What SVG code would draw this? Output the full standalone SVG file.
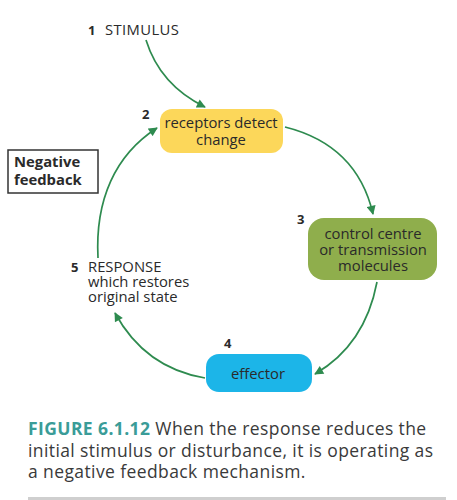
<svg xmlns="http://www.w3.org/2000/svg" width="457" height="500" viewBox="0 0 457 500">
<defs>
<marker id="ah" viewBox="0 0 10 10" refX="9" refY="5" markerWidth="10" markerHeight="9" orient="auto" markerUnits="userSpaceOnUse">
<path d="M0,0 L10,5 L0,10 z" fill="#2e8b4f"/>
</marker>
<style>
.t{font-family:"Open Sans","DejaVu Sans",sans-serif;font-size:14.8px;font-weight:500;fill:#2a2a2a}
.c{text-anchor:middle}
.b{font-weight:bold}
.n{font-family:"Open Sans","DejaVu Sans",sans-serif;font-size:13px;font-weight:bold;fill:#2a2a2a}
.cap{font-family:"Open Sans","Liberation Sans",sans-serif;font-size:17.5px;letter-spacing:0.4px;fill:#3a3a3a}
.ln{fill:none;stroke:#2e8b4f;stroke-width:1.7;marker-end:url(#ah)}
</style>
</defs>
<rect width="457" height="500" fill="#fff"/>
<g id="stimulus">
<text class="n" x="88" y="35">1</text>
<text class="t" x="105" y="35" letter-spacing="0.4">STIMULUS</text>
</g>
<g id="receptors">
<rect x="160" y="109" width="123" height="44" rx="12" fill="#fcd75a"/>
<text class="n" x="142" y="119">2</text>
<text class="t c" x="221" y="128">receptors detect</text>
<text class="t c" x="221" y="145">change</text>
</g>
<g id="control">
<rect x="308" y="218" width="129" height="62" rx="16" fill="#8fae4c"/>
<text class="n" x="297" y="224">3</text>
<text class="t c" x="373" y="239">control centre</text>
<text class="t c" x="373" y="255">or transmission</text>
<text class="t c" x="373" y="271">molecules</text>
</g>
<g id="effector">
<rect x="206" y="354" width="106" height="38" rx="13" fill="#1cb5e8"/>
<text class="n" x="224" y="348">4</text>
<text class="t c" x="258" y="379">effector</text>
</g>
<g id="response">
<text class="n" x="71" y="272">5</text>
<text class="t" x="88" y="272">RESPONSE</text>
<text class="t" x="88" y="287">which restores</text>
<text class="t" x="88" y="302">original state</text>
</g>
<g id="negative-feedback">
<rect x="8" y="150" width="90" height="43" fill="#fff" stroke="#333" stroke-width="1.5"/>
<text class="t b" x="14" y="167">Negative</text>
<text class="t b" x="14" y="185">feedback</text>
</g>
<g id="connectors">
<path class="ln" d="M146,40 Q160,85 205,107"/>
<path class="ln" d="M285,127 Q357,145 373,214"/>
<path class="ln" d="M377,282 Q365,345 315,374"/>
<path class="ln" d="M205,378 Q145,368 115,313"/>
<path class="ln" d="M98,258 C95,200 115,155 157,128"/>
</g>
<g id="caption">
<text class="cap" x="28" y="435"><tspan font-weight="bold" fill="#3a9c98">FIGURE 6.1.12</tspan> When the response reduces the</text>
<text class="cap" x="28" y="457">initial stimulus or disturbance, it is operating as</text>
<text class="cap" x="28" y="478">a negative feedback mechanism.</text>
<rect x="28" y="497" width="418" height="3" fill="#cfcfcf"/>
</g>
</svg>
